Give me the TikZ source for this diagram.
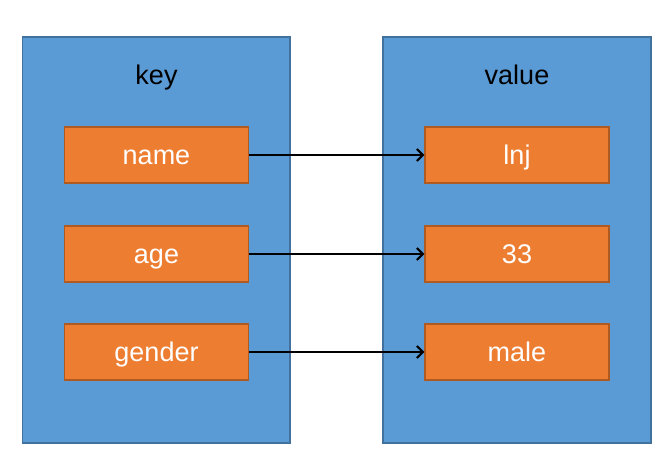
\documentclass[tikz,border=0pt]{standalone}
\usepackage{fontspec}
\setmainfont{Liberation Sans}
\usetikzlibrary{arrows.meta}
\definecolor{bluefill}{HTML}{5B9BD5}
\definecolor{blueline}{HTML}{41719C}
\definecolor{orfill}{HTML}{ED7D31}
\definecolor{orline}{HTML}{AE5A21}
\tikzset{
  panel/.style={draw=blueline, fill=bluefill, line width=1.5pt},
  item/.style={draw=orline, fill=orfill, line width=1.5pt, minimum width=184pt, minimum height=56pt, inner sep=0pt, text height=21pt, text depth=1pt, text=white, font=\fontsize{27}{31}\selectfont},
  title/.style={text=black, font=\fontsize{27}{31}\selectfont, inner sep=0pt, anchor=base},
  link/.style={-{Straight Barb[length=6pt,width=12pt,line width=2pt]}, line width=2.2pt, black}
}
\begin{document}
\begin{tikzpicture}[x=1pt,y=1pt]
\useasboundingbox (0,0) rectangle (672,474);
\fill[white] (0,0) rectangle (672,474);
\draw[panel] (22.5,437) rectangle (290,31);
\draw[panel] (383,437) rectangle (651,31);
\node[title] (key) at (156.5,389) {key};
\node[title] (value) at (517,389) {value};
\node[item] (k1) at (156.5,319) {name};
\node[item] (k2) at (156.5,220) {age};
\node[item] (k3) at (156.5,122) {gender};
\node[item] (v1) at (517,319) {lnj};
\node[item] (v2) at (517,220) {33};
\node[item] (v3) at (517,122) {male};
\draw[link] (k1) -- (v1);
\draw[link] (k2) -- (v2);
\draw[link] (k3) -- (v3);
\end{tikzpicture}
\end{document}
